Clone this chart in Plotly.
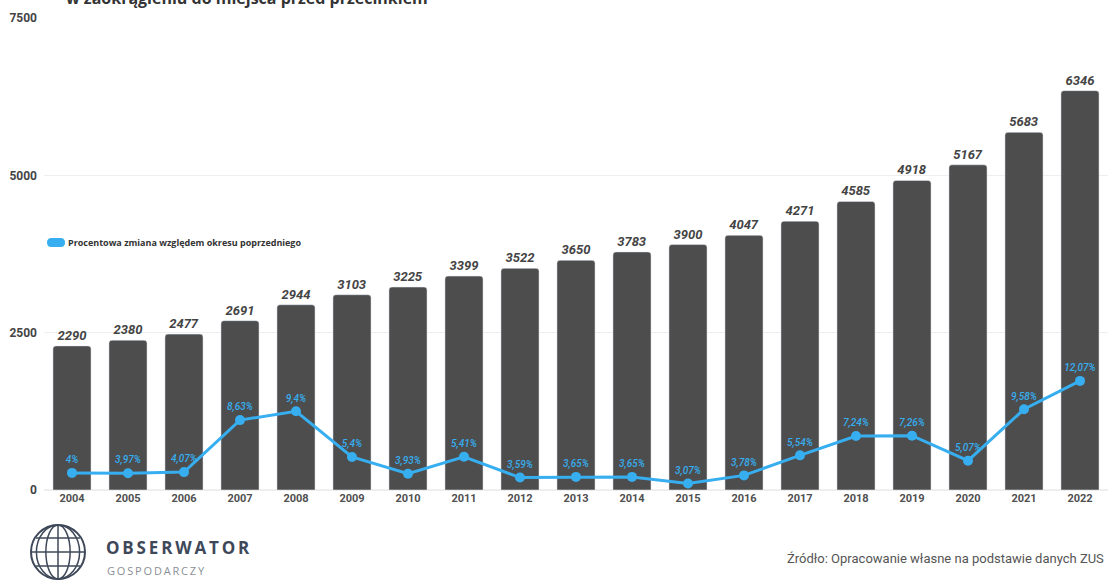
import plotly.graph_objects as go

# Data: average values per year and year-over-year percentage change
years = ["2004", "2005", "2006", "2007", "2008", "2009", "2010", "2011", "2012", "2013",
         "2014", "2015", "2016", "2017", "2018", "2019", "2020", "2021", "2022"]
values = [2290, 2380, 2477, 2691, 2944, 3103, 3225, 3399, 3522, 3650,
          3783, 3900, 4047, 4271, 4585, 4918, 5167, 5683, 6346]
pct_change = [4, 3.97, 4.07, 8.63, 9.4, 5.4, 3.93, 5.41, 3.59, 3.65,
              3.65, 3.07, 3.78, 5.54, 7.24, 7.26, 5.07, 9.58, 12.07]
y_ticks = [0, 2500, 5000, 7500]

legend_label = "Procentowa zmiana względem okresu poprzedniego"
title_text = "w zaokrągleniu do miejsca przed przecinkiem"
source_text = "Źródło: Opracowanie własne na podstawie danych ZUS"

W, H = 1110, 583
PL, PR, PT, PB = 44, 2, 18, 93
pw, ph = W - PL - PR, H - PT - PB

BAR_COLOR = "#4d4d4d"
LINE_COLOR = "#36aef0"
NAVY = "#3e4859"


def px(x):
    return (x - PL) / pw


def py(y):
    return (H - PB - y) / ph


def pct_label(v):
    return f"{v:g}".replace(".", ",") + "%"


fig = go.Figure()

fig.add_trace(go.Bar(
    x=years, y=values,
    marker=dict(color=BAR_COLOR, cornerradius=3),
    text=[str(v) for v in values],
    textposition="outside",
    textfont=dict(family="Roboto, sans-serif", size=13, color="#444444",
                  style="italic", weight="bold"),
    cliponaxis=False,
    showlegend=False,
))

fig.add_trace(go.Scatter(
    x=years, y=pct_change, yaxis="y2",
    mode="lines+markers+text",
    line=dict(color=LINE_COLOR, width=3),
    marker=dict(color=LINE_COLOR, size=10),
    text=[pct_label(v) for v in pct_change],
    textposition="top center",
    textfont=dict(family="Roboto, sans-serif", size=10, color=LINE_COLOR,
                  style="italic", weight=500),
    cliponaxis=False,
    showlegend=False,
))

shapes = []
annotations = []

# Legend: rounded pill marker + label
x0, x1, y0, y1, r = 47, 65, 238, 247, 4.5
path = (f"M {px(x0 + r)} {py(y0)} L {px(x1 - r)} {py(y0)} "
        f"Q {px(x1)} {py(y0)} {px(x1)} {py(y0 + r)} "
        f"Q {px(x1)} {py(y1)} {px(x1 - r)} {py(y1)} "
        f"L {px(x0 + r)} {py(y1)} "
        f"Q {px(x0)} {py(y1)} {px(x0)} {py(y0 + r)} "
        f"Q {px(x0)} {py(y0)} {px(x0 + r)} {py(y0)} Z")
shapes.append(dict(type="path", xref="paper", yref="paper", path=path,
                   fillcolor=LINE_COLOR, line=dict(width=0)))
annotations.append(dict(xref="paper", yref="paper", x=px(66), y=py(242.5),
                        xanchor="left", yanchor="middle", showarrow=False,
                        text=legend_label,
                        font=dict(family="Open Sans, sans-serif", size=9,
                                  color="#333333", weight="bold")))

# Title (runs past the top edge of the page)
annotations.append(dict(xref="paper", yref="paper", x=px(64), y=py(-2),
                        xanchor="left", yanchor="middle", showarrow=False,
                        text=title_text,
                        font=dict(family="Open Sans, sans-serif", size=16,
                                  color="#333333", weight="bold")))

# Source note
annotations.append(dict(xref="paper", yref="paper", x=px(1106), y=py(558),
                        xanchor="right", yanchor="middle", showarrow=False,
                        text=source_text,
                        font=dict(family="Liberation Sans Narrow, Roboto, sans-serif",
                                  size=13, color="#555555")))

# Logo: globe outline
cx, cy, rad = 58, 552, 27
shapes.append(dict(type="circle", xref="paper", yref="paper",
                   x0=px(cx - rad), x1=px(cx + rad), y0=py(cy + rad), y1=py(cy - rad),
                   line=dict(color=NAVY, width=2)))
for k in (0.45, 0.8):
    shapes.append(dict(type="circle", xref="paper", yref="paper",
                       x0=px(cx - rad * k), x1=px(cx + rad * k),
                       y0=py(cy + rad), y1=py(cy - rad),
                       line=dict(color=NAVY, width=1.5)))
shapes.append(dict(type="line", xref="paper", yref="paper",
                   x0=px(cx), x1=px(cx), y0=py(cy + rad), y1=py(cy - rad),
                   line=dict(color=NAVY, width=1.5)))
for dy, half in ((-14, 22), (0, 27), (14, 22)):
    shapes.append(dict(type="line", xref="paper", yref="paper",
                       x0=px(cx - half), x1=px(cx + half), y0=py(cy + dy), y1=py(cy + dy),
                       line=dict(color=NAVY, width=1.5)))

annotations.append(dict(xref="paper", yref="paper", x=px(104), y=py(547),
                        xanchor="left", yanchor="middle", showarrow=False,
                        text="O B S E R W A T O R".replace(" ", "\u2009"),
                        font=dict(family="Open Sans, sans-serif", size=17,
                                  color=NAVY, weight="bold")))
annotations.append(dict(xref="paper", yref="paper", x=px(105), y=py(570),
                        xanchor="left", yanchor="middle", showarrow=False,
                        text="G O S P O D A R C Z Y".replace(" ", "\u2009"),
                        font=dict(family="Open Sans, sans-serif", size=11,
                                  color="#8a8f96")))

fig.update_layout(
    width=W, height=H,
    margin=dict(l=PL, r=PR, t=PT, b=PB, pad=0, autoexpand=False),
    paper_bgcolor="white", plot_bgcolor="white",
    bargap=0.32,
    xaxis=dict(type="category", range=[-0.5, len(years) - 0.5],
               showgrid=False, showline=False, ticks="", automargin=False,
               tickfont=dict(family="Roboto, sans-serif", size=11,
                             color="#505050", weight="bold")),
    yaxis=dict(range=[0, 7500], tickvals=y_ticks, showgrid=True,
               gridcolor="#eeeeee", gridwidth=1, zeroline=True,
               zerolinecolor="#eeeeee", ticks="", ticklabelstandoff=6,
               automargin=False,
               tickfont=dict(family="Roboto, sans-serif", size=12,
                             color="#444444", weight="bold")),
    yaxis2=dict(range=[2.5, 43.9], overlaying="y", visible=False),
    shapes=shapes,
    annotations=annotations,
    showlegend=False,
)

fig.write_html("out.html")
